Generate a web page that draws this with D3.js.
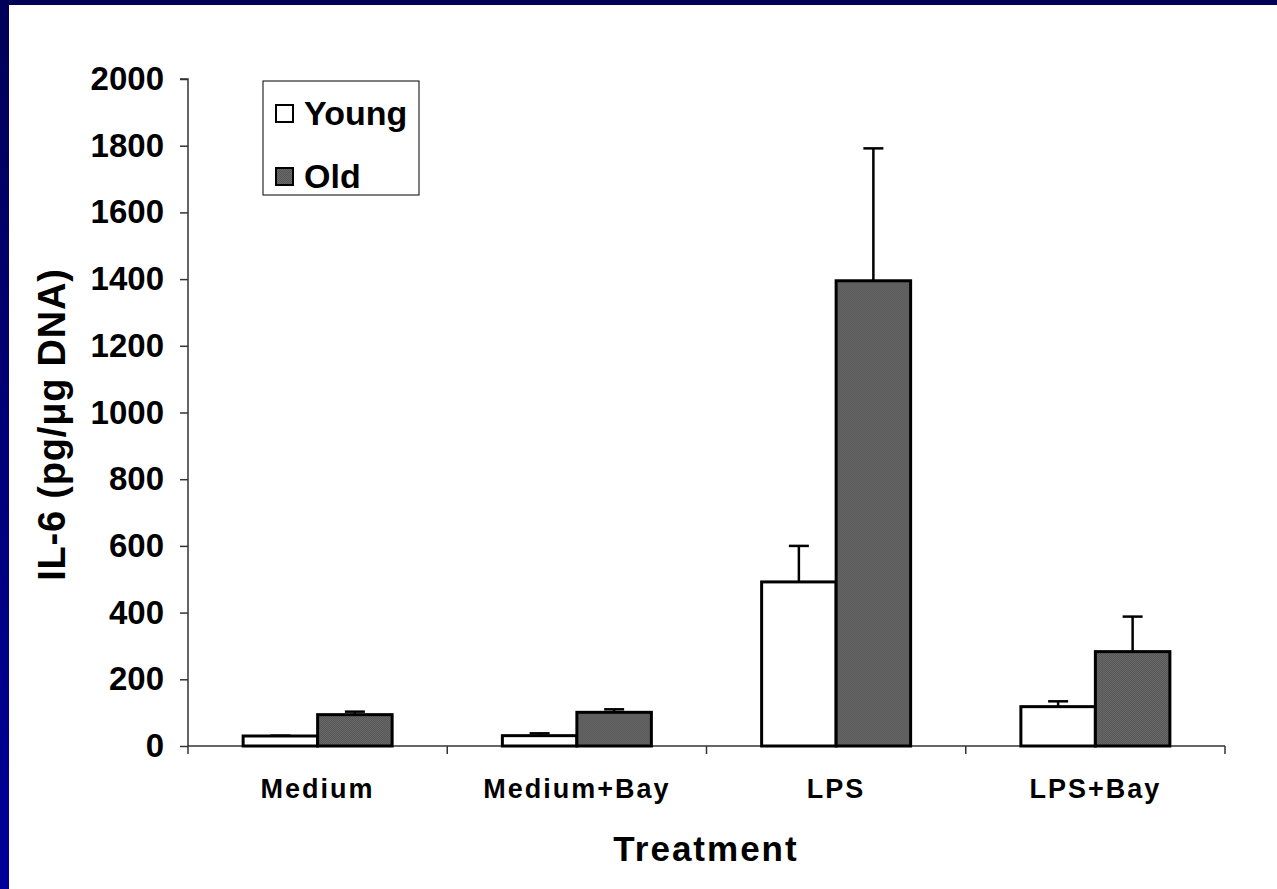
<!DOCTYPE html>
<html>
<head>
<meta charset="utf-8">
<script src="https://cdn.jsdelivr.net/npm/d3@7"></script>
<style>
  html, body { margin: 0; padding: 0; background: #fff; }
  svg { display: block; }
  text { font-family: "Liberation Sans", Arial, sans-serif; font-weight: bold; fill: #000; }
</style>
</head>
<body>
<svg id="chart" width="1277" height="889"></svg>
<script>
// IL-6 secretion by treatment, young vs old
const categories = ["Medium", "Medium+Bay", "LPS", "LPS+Bay"];
const seriesNames = ["Young", "Old"];
const youngValues = [30, 31, 492, 118];
const youngErrors = [1, 7, 108, 16];
const oldValues = [94, 101, 1395, 283];
const oldErrors = [9, 9, 397, 105];
const yTicks = [0, 200, 400, 600, 800, 1000, 1200, 1400, 1600, 1800, 2000];

const svg = d3.select("#chart");
const W = 1277, H = 889;

// slide frame: navy gradient behind a white panel
const defs = svg.append("defs");
const grad = defs.append("linearGradient").attr("id", "frameGrad")
  .attr("x1", 0).attr("y1", 0).attr("x2", 0).attr("y2", 1);
grad.append("stop").attr("offset", "0%").attr("stop-color", "#000058");
grad.append("stop").attr("offset", "100%").attr("stop-color", "#00009a");

// stippled gray fill for the Old bars
const pat = defs.append("pattern").attr("id", "stipple")
  .attr("width", 2).attr("height", 2).attr("patternUnits", "userSpaceOnUse");
pat.append("rect").attr("width", 2).attr("height", 2).attr("fill", "#6a6a6a");
pat.append("rect").attr("width", 1).attr("height", 1).attr("fill", "#555");
pat.append("rect").attr("x", 1).attr("y", 1).attr("width", 1).attr("height", 1).attr("fill", "#555");

svg.append("rect").attr("width", W).attr("height", H).attr("fill", "url(#frameGrad)");
svg.append("rect").attr("x", 9).attr("y", 5).attr("width", W - 9).attr("height", H - 5).attr("fill", "#fff");

const plot = { left: 188, right: 1225, top: 79, bottom: 746 };

const x0 = d3.scaleBand().domain(categories).range([plot.left, plot.right]).paddingInner(0).paddingOuter(0);
const groupW = 149;
const x1 = d3.scaleBand().domain(seriesNames).range([0, groupW]).padding(0);
const y = d3.scaleLinear().domain([0, 2000]).range([plot.bottom, plot.top]);

const rows = categories.map((c, i) => ({
  cat: c,
  bars: [
    { s: "Young", v: youngValues[i], e: youngErrors[i] },
    { s: "Old", v: oldValues[i], e: oldErrors[i] }
  ]
}));

// y axis
const yAxis = svg.append("g").attr("transform", `translate(${plot.left},0)`)
  .call(d3.axisLeft(y).tickValues(yTicks).tickSize(8).tickPadding(16).tickFormat(d3.format("d")));
yAxis.select(".domain").attr("stroke", "#333").attr("stroke-width", 1.5).attr("d", `M-8,${plot.top}H0V${plot.bottom}`);
yAxis.selectAll(".tick line").attr("stroke", "#333").attr("stroke-width", 1.5);
yAxis.selectAll(".tick text").attr("font-size", 33).attr("font-family", "Liberation Sans, Arial, sans-serif").attr("font-weight", "bold").attr("fill", "#000");

// x axis with ticks at category boundaries
const xg = svg.append("g").attr("transform", `translate(0,${plot.bottom})`);
xg.append("line").attr("x1", plot.left).attr("x2", plot.right).attr("y1", 0).attr("y2", 0)
  .attr("stroke", "#333").attr("stroke-width", 1.5);
const bounds = categories.map(c => x0(c)).concat([plot.right]);
xg.selectAll("line.tk").data(bounds).join("line").attr("class", "tk")
  .attr("x1", d => d).attr("x2", d => d).attr("y1", 0).attr("y2", 8)
  .attr("stroke", "#333").attr("stroke-width", 1.5);
xg.selectAll("text.cat").data(categories).join("text").attr("class", "cat")
  .attr("x", d => x0(d) + x0.bandwidth() / 2).attr("y", 52)
  .attr("text-anchor", "middle").attr("font-size", 27).attr("letter-spacing", 2)
  .text(d => d);

// bars
const groups = svg.append("g").selectAll("g").data(rows).join("g")
  .attr("transform", d => `translate(${x0(d.cat) + (x0.bandwidth() - groupW) / 2},0)`);

groups.selectAll("rect").data(d => d.bars).join("rect")
  .attr("x", d => x1(d.s))
  .attr("y", d => y(d.v))
  .attr("width", x1.bandwidth())
  .attr("height", d => y(0) - y(d.v))
  .attr("fill", d => d.s === "Old" ? "url(#stipple)" : "#fff")
  .attr("stroke", "#000").attr("stroke-width", 3);

// upper error bars
const eb = groups.selectAll("g.err").data(d => d.bars).join("g").attr("class", "err");
eb.append("line")
  .attr("x1", d => x1(d.s) + x1.bandwidth() / 2).attr("x2", d => x1(d.s) + x1.bandwidth() / 2)
  .attr("y1", d => y(d.v)).attr("y2", d => y(d.v + d.e))
  .attr("stroke", "#000").attr("stroke-width", 2.5);
eb.append("line")
  .attr("x1", d => x1(d.s) + x1.bandwidth() / 2 - 10).attr("x2", d => x1(d.s) + x1.bandwidth() / 2 + 10)
  .attr("y1", d => y(d.v + d.e)).attr("y2", d => y(d.v + d.e))
  .attr("stroke", "#000").attr("stroke-width", 2.5);

// axis titles
svg.append("text").attr("x", 706).attr("y", 861).attr("text-anchor", "middle")
  .attr("font-size", 35).attr("letter-spacing", 2).text("Treatment");
svg.append("text").attr("transform", `translate(65,${(plot.top + plot.bottom) / 2 + 12}) rotate(-90)`)
  .attr("text-anchor", "middle").attr("font-size", 38).attr("letter-spacing", 0.8).text("IL-6 (pg/μg DNA)");

// legend
const lg = svg.append("g").attr("transform", "translate(263,81)");
lg.append("rect").attr("width", 156).attr("height", 114).attr("fill", "#fff").attr("stroke", "#000").attr("stroke-width", 1);
const items = lg.selectAll("g").data(seriesNames).join("g")
  .attr("transform", (d, i) => `translate(13,${24 + i * 63})`);
items.append("rect").attr("width", 17).attr("height", 17)
  .attr("fill", d => d === "Old" ? "url(#stipple)" : "#fff").attr("stroke", "#000").attr("stroke-width", 2);
items.append("text").attr("x", 28).attr("y", 20).attr("font-size", 34).text(d => d);
</script>
</body>
</html>
